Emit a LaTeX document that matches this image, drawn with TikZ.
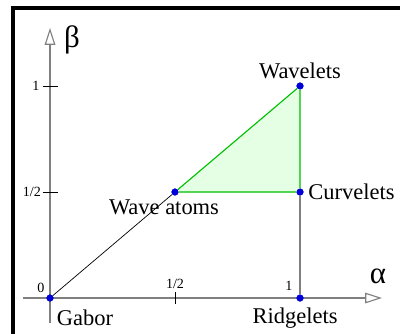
\documentclass[tikz,border=0pt]{standalone}
\usepackage{fontspec}
\setmainfont{Liberation Serif}
\usetikzlibrary{arrows.meta,positioning}

\tikzset{
  axis/.style={gray,line width=0.8pt,-{Triangle[open,length=12pt,width=7.5pt]}},
  tick/.style={black,line width=0.6pt},
  dot/.style={circle,fill=blue!85!black,inner sep=0pt,minimum size=5pt},
  ticklabel/.style={font=\fontsize{10}{12}\selectfont,inner sep=1pt},
  family/.style={font=\fontsize{16}{18}\selectfont,inner sep=1pt},
  greek/.style={font=\fontsize{22}{24}\selectfont,inner sep=0pt}
}

\begin{document}
\begin{tikzpicture}[x=6.25cm,y=5.3cm]
  \useasboundingbox (-0.2,-0.1651) rectangle (1.4,1.4057);
  % frame (left and top edge only)
  \draw[line width=2.2pt] (-0.148,-0.17) -- (-0.148,1.368) -- (1.41,1.368);

  % axes
  \coordinate (xstart) at (-0.108,0);
  \coordinate (xend) at (1.328,0);
  \coordinate (ystart) at (0,-0.118);
  \coordinate (yend) at (0,1.274);
  \draw[axis] (xstart) -- (xend);
  \draw[axis] (ystart) -- (yend);
  \node[greek] (alpha) at (1.312,0.104) {α};
  \node[greek] (beta) at (0.088,1.217) {β};

  % ticks
  \coordinate (b1l) at (-0.03,1);    \coordinate (b1r) at (0.03,1);
  \coordinate (bhl) at (-0.03,0.5);  \coordinate (bhr) at (0.03,0.5);
  \coordinate (ahb) at (0.5,-0.028); \coordinate (aht) at (0.5,0.028);
  \draw[tick] (b1l) -- (b1r);
  \draw[tick] (bhl) -- (bhr);
  \draw[tick] (ahb) -- (aht);
  \node[ticklabel,left=1pt of b1l] (lb1) {1};
  \node[ticklabel,left=0pt of bhl] (lbh) {1/2};
  \node[ticklabel,above=1pt of aht] (lah) {1/2};
  \node[ticklabel] (la1) at (0.956,0.057) {1};
  \node[ticklabel] (l0) at (-0.036,0.047) {0};

  % transforms
  \node[dot] (gabor) at (0,0) {};
  \node[dot] (atoms) at (0.5,0.5) {};
  \node[dot] (wavelets) at (1,1) {};
  \node[dot] (curvelets) at (1,0.5) {};
  \node[dot] (ridgelets) at (1,0) {};

  \fill[green!10] (atoms.center) -- (wavelets.center) -- (curvelets.center) -- cycle;
  \draw[green!75!black,line width=0.8pt] (atoms) -- (wavelets) -- (curvelets) -- (atoms);
  \draw[black,line width=0.5pt] (gabor) -- (atoms);
  \draw[gray,line width=0.8pt] (curvelets) -- (ridgelets);
  \foreach \n in {gabor,atoms,wavelets,curvelets,ridgelets}
    \node[dot] at (\n) {};

  \node[family,above=1pt of wavelets] (twav) {Wavelets};
  \node[family,right=2pt of curvelets] (tcur) {Curvelets};
  \node[family] (tatm) at (0.456,0.429) {Wave atoms};
  \node[family] (trid) at (0.98,-0.094) {Ridgelets};
  \node[family] (tgab) at (0.14,-0.094) {Gabor};
\end{tikzpicture}
\end{document}
